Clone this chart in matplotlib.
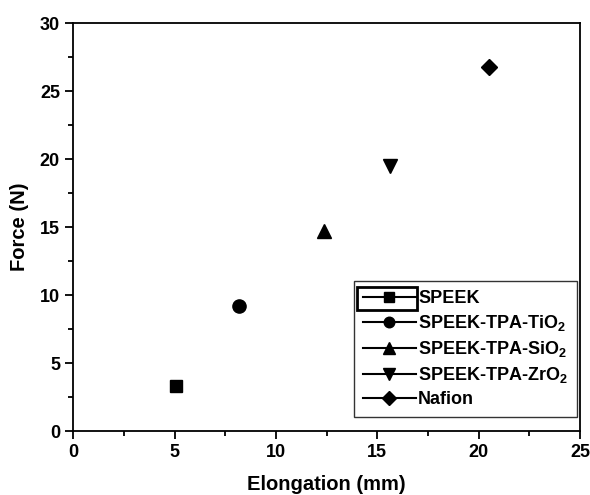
import matplotlib
matplotlib.use("Agg")
import matplotlib.pyplot as plt
from matplotlib.ticker import MultipleLocator
from matplotlib.patches import Rectangle

plt.rcParams['font.family'] = ['Liberation Sans', 'DejaVu Sans']
plt.rcParams['font.weight'] = 'bold'
plt.rcParams['mathtext.fontset'] = 'custom'
plt.rcParams['mathtext.rm'] = 'Liberation Sans:bold'
plt.rcParams['mathtext.bf'] = 'Liberation Sans:bold'

labels = ["SPEEK", r"SPEEK-TPA-TiO$_2$", r"SPEEK-TPA-SiO$_2$",
          r"SPEEK-TPA-ZrO$_2$", "Nafion"]
elongation = [5.05, 8.2, 12.35, 15.65, 20.5]
force = [3.3, 9.2, 14.7, 19.5, 26.8]
markers = ["s", "o", "^", "v", "D"]
sizes = [8.5, 9.5, 10.5, 10.5, 8.5]

fig = plt.figure(figsize=(5.9, 4.95), dpi=100)
ax = fig.add_axes([0.124, 0.129, 0.859, 0.824])

for x, y, lab, m, s in zip(elongation, force, labels, markers, sizes):
    ax.plot([x], [y], marker=m, color="black", linestyle="-", linewidth=1.5,
            markersize=s, label=lab)

ax.set_xlim(0, 25)
ax.set_ylim(0, 30)
ax.xaxis.set_major_locator(MultipleLocator(5))
ax.xaxis.set_minor_locator(MultipleLocator(2.5))
ax.yaxis.set_major_locator(MultipleLocator(5))
ax.yaxis.set_minor_locator(MultipleLocator(2.5))
ax.tick_params(which="major", direction="out", length=6, width=1.3, labelsize=13)
ax.tick_params(which="minor", direction="out", length=3.5, width=1.3)
for sp in ax.spines.values():
    sp.set_linewidth(1.3)

ax.set_xlabel("Elongation (mm)", fontsize=14.5, fontweight="bold", labelpad=10)
ax.set_ylabel("Force (N)", fontsize=14.5, fontweight="bold", labelpad=8)

leg = ax.legend(loc="lower right", bbox_to_anchor=(0.994, 0.034), borderaxespad=0,
                fontsize=13, frameon=True, fancybox=False, edgecolor="black",
                handlelength=2.9, labelspacing=0.33, handletextpad=0.15,
                borderpad=0.5, markerscale=0.8)
leg.get_frame().set_linewidth(1.0)
for t in leg.get_texts():
    t.set_fontweight("bold")

# the first legend entry has a box drawn round its symbol
fig.canvas.draw()
renderer = fig.canvas.get_renderer()
hb = leg.legend_handles[0].get_window_extent(renderer)
tb = leg.get_texts()[0].get_window_extent(renderer)
inv = fig.transFigure.inverted()
x0, y0 = inv.transform((hb.x0 - 1, tb.y0 - 3))
x1, y1 = inv.transform((tb.x0 - 1, tb.y1 + 3))
fig.add_artist(Rectangle((x0, y0), x1 - x0, y1 - y0, transform=fig.transFigure,
                         fill=False, edgecolor="black", linewidth=2.0))

fig.savefig("out.png", dpi=100)
